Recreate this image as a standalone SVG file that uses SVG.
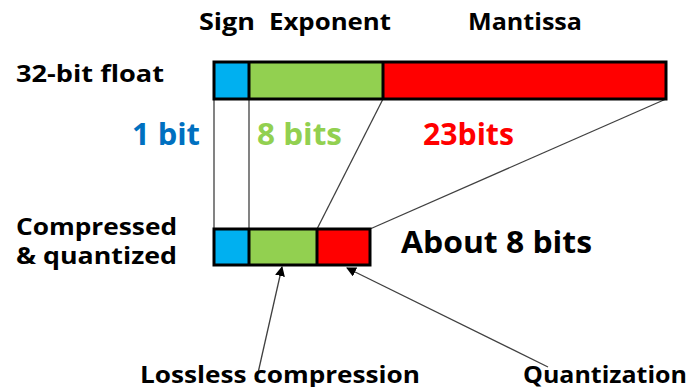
<svg xmlns="http://www.w3.org/2000/svg" width="690" height="387" viewBox="0 0 690 387">
  <style>
    text { font-family: "Open Sans", "Noto Sans", "DejaVu Sans", sans-serif; font-weight: 700; }
    .lbl { font-size: 24px; fill: #000; }
    .sub { font-size: 23px; fill: #000; }
    .big { font-size: 30px; }
    .bar { stroke: #000; stroke-width: 3; }
    .sign { fill: #00B0F0; }
    .exp { fill: #92D050; }
    .man { fill: #FF0000; }
    .link { stroke: #404040; stroke-width: 1.3; fill: none; }
  </style>
  <defs>
    <marker id="arrow" viewBox="0 0 10 10" refX="9" refY="5" markerWidth="10" markerHeight="10" markerUnits="userSpaceOnUse" orient="auto">
      <path d="M0,0 L10,5 L0,10 z" fill="#000"/>
    </marker>
  </defs>

  <!-- field headings -->
  <g id="headings">
    <text class="lbl" x="199" y="30" textLength="56" lengthAdjust="spacingAndGlyphs">Sign</text>
    <text class="lbl" x="269" y="30" textLength="122" lengthAdjust="spacingAndGlyphs">Exponent</text>
    <text class="lbl" x="468" y="30" textLength="114" lengthAdjust="spacingAndGlyphs">Mantissa</text>
  </g>

  <!-- connectors between the two layouts -->
  <g id="connectors">
    <line class="link" x1="214" y1="99" x2="214" y2="229"/>
    <line class="link" x1="249" y1="99" x2="249" y2="229"/>
    <line class="link" x1="383" y1="99" x2="317" y2="229"/>
    <line class="link" x1="666" y1="99" x2="370" y2="229"/>
    <line class="link" x1="258" y1="373" x2="282" y2="267" marker-end="url(#arrow)"/>
    <line class="link" x1="548" y1="367" x2="347" y2="268" marker-end="url(#arrow)"/>
  </g>

  <!-- 32-bit float layout -->
  <g id="float32">
    <text class="lbl" x="16" y="82" textLength="148" lengthAdjust="spacingAndGlyphs">32-bit float</text>
    <rect class="sign" x="214" y="62" width="35" height="37"/>
    <rect class="exp" x="249" y="62" width="134" height="37"/>
    <rect class="man" x="383" y="62" width="283" height="37"/>
    <rect class="bar" x="214" y="62" width="452" height="37" fill="none"/>
    <line class="bar" x1="249" y1="62" x2="249" y2="99"/>
    <line class="bar" x1="383" y1="62" x2="383" y2="99"/>
  </g>

  <!-- bit counts -->
  <g id="bitcounts">
    <text class="big" x="132" y="145" fill="#0070C0" textLength="68" lengthAdjust="spacingAndGlyphs">1 bit</text>
    <text class="big" x="257" y="145" fill="#92D050" textLength="85" lengthAdjust="spacingAndGlyphs">8 bits</text>
    <text class="big" x="423" y="145" fill="#FF0000" textLength="91" lengthAdjust="spacingAndGlyphs">23bits</text>
  </g>

  <!-- compressed layout -->
  <g id="compressed">
    <text class="sub" x="16" y="235" textLength="161" lengthAdjust="spacingAndGlyphs">Compressed</text>
    <text class="sub" x="16" y="264" textLength="161" lengthAdjust="spacingAndGlyphs">&amp; quantized</text>
    <rect class="sign" x="214" y="229" width="35" height="36"/>
    <rect class="exp" x="249" y="229" width="68" height="36"/>
    <rect class="man" x="317" y="229" width="53" height="36"/>
    <rect class="bar" x="214" y="229" width="156" height="36" fill="none"/>
    <line class="bar" x1="249" y1="229" x2="249" y2="265"/>
    <line class="bar" x1="317" y1="229" x2="317" y2="265"/>
    <text class="big" x="401" y="253" fill="#000" textLength="191" lengthAdjust="spacingAndGlyphs">About 8 bits</text>
  </g>

  <!-- technique labels -->
  <g id="lossless">
    <text class="lbl" x="140" y="383" textLength="280" lengthAdjust="spacingAndGlyphs">Lossless compression</text>
  </g>
  <g id="quantization">
    <text class="lbl" x="523" y="383" textLength="164" lengthAdjust="spacingAndGlyphs">Quantization</text>
  </g>
</svg>
